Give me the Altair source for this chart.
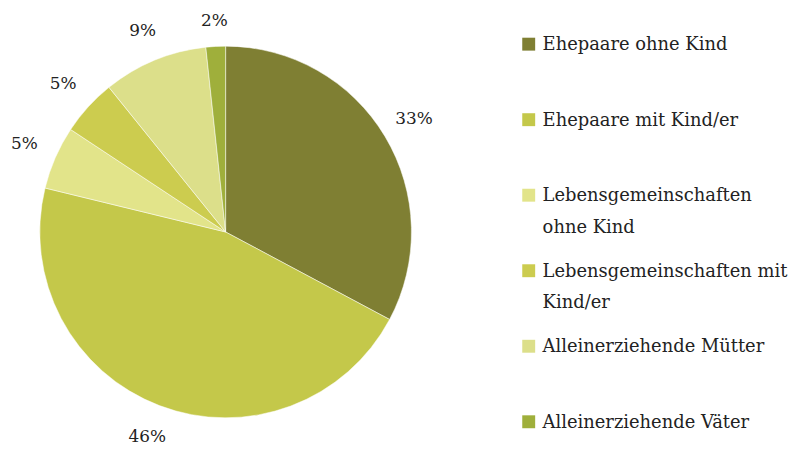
import altair as alt
import pandas as pd

categories = [
    "Ehepaare ohne Kind",
    "Ehepaare mit Kind/er",
    "Lebensgemeinschaften ohne Kind",
    "Lebensgemeinschaften mit Kind/er",
    "Alleinerziehende Mütter",
    "Alleinerziehende Väter",
]
legend_labels = [
    "Ehepaare ohne Kind",
    "Ehepaare mit Kind/er",
    "Lebensgemeinschaften\nohne Kind",
    "Lebensgemeinschaften mit\nKind/er",
    "Alleinerziehende Mütter",
    "Alleinerziehende Väter",
]
shares = [32.8, 46.0, 5.5, 4.9, 9.1, 1.7]
pct_labels = ["33%", "46%", "5%", "5%", "9%", "2%"]
colors = ["#7f7f33", "#c4c84a", "#e2e48a", "#cccc4f", "#dcdf8a", "#9faf3b"]

df = pd.DataFrame({
    "cat": categories,
    "legend": legend_labels,
    "share": shares,
    "pct": pct_labels,
    "order": list(range(len(categories))),
})

font = "DejaVu Serif"
color_scale = alt.Scale(domain=categories, range=colors)

pie = alt.Chart(df).mark_arc(outerRadius=187, stroke="white", strokeWidth=0.5).encode(
    theta=alt.Theta("share:Q", stack=True),
    order=alt.Order("order:Q"),
    color=alt.Color("cat:N", scale=color_scale, legend=None),
    x=alt.value(219),
    y=alt.value(224),
)

labels = alt.Chart(df).transform_joinaggregate(
    total="sum(share)"
).transform_window(
    cum="sum(share)", sort=[alt.SortField("order")], frame=[None, 0]
).transform_calculate(
    mid="(datum.cum - datum.share / 2) / datum.total * 2 * PI",
).transform_calculate(
    r="221 - 9 * pow(max(cos(datum.mid), 0), 16)"
).mark_text(font=font, fontSize=17, color="#222222").encode(
    text="pct:N",
    theta=alt.Theta("mid:Q", scale=None),
    radius=alt.Radius("r:Q", scale=None),
    x=alt.value(219),
    y=alt.value(224),
)

ypos = alt.Y("cat:N", sort=categories, axis=None,
             scale=alt.Scale(type="point", range=[35, 415], padding=0))

leg_sym = alt.Chart(df).mark_square(size=169, opacity=1).encode(
    x=alt.value(524),
    y=ypos,
    color=alt.Color("cat:N", scale=color_scale, legend=None),
)

leg_txt = alt.Chart(df).mark_text(
    align="left", baseline="alphabetic", dy=6, lineBreak="\n", lineHeight=32,
    font=font, fontSize=18, color="#222222",
).encode(
    x=alt.value(538),
    y=ypos,
    text="legend:N",
)

chart = alt.layer(pie, labels, leg_sym, leg_txt).properties(
    width=796, height=440, padding=0,
    autosize=alt.AutoSizeParams(type="none"),
).configure_view(stroke=None)

chart.save("out.html", embed_options={"renderer": "svg", "actions": False})
